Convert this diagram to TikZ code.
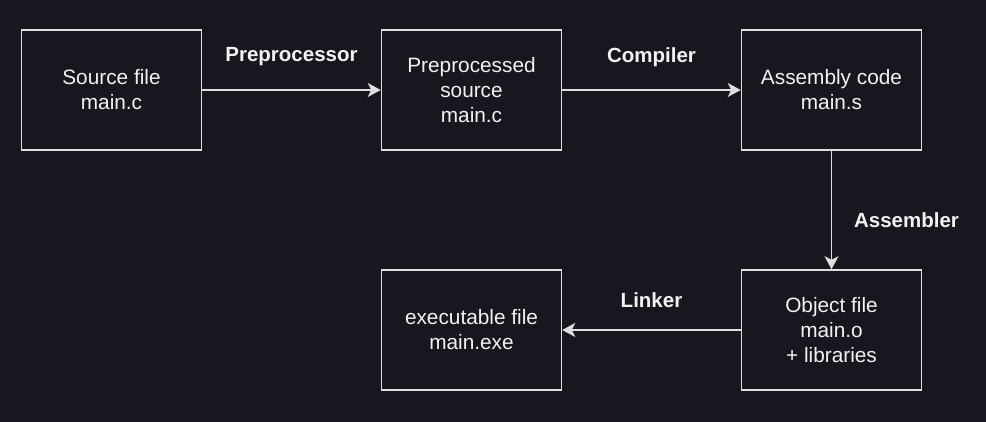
\documentclass[tikz,border=0pt]{standalone}
\usepackage{fontspec}
\setmainfont{Liberation Sans}
\usetikzlibrary{arrows.meta, positioning, math, calc}

\definecolor{bgColor}{RGB}{25,22,31}
\definecolor{lineColor}{RGB}{222,222,222}
\definecolor{textColor}{RGB}{242,242,242}

\begin{document}
\begin{tikzpicture}[x=1pt, y=1pt]
	\tikzmath{
		\x         = 111.5; %center of the first box
		\y         = -90;   %center of the first box
		\nodeW     = 180;   %node width
		\nodeH     = 120;   %node height
		\nodeDist  = 178.5; %distance between nodes
		\rowDist   = 118.5; %distance between the two rows
		\labelDist = 33;    %label above its arrow
	}
	\tikzstyle{Node} = [
		minimum width=\nodeW pt,
		minimum height=\nodeH pt,
		align=center,
		draw=lineColor,
		line width=1.5pt,
		text=textColor,
		font=\fontsize{20.8}{25}\selectfont
	]
	\tikzstyle{EmptyNode} = [rectangle, text=textColor, font=\fontsize{20.5}{25}\selectfont\bfseries]
	\tikzstyle{Arrow} = [-{Stealth[length=13pt, width=14pt, inset=3.5pt]}, draw=lineColor, line width=1.5pt]

	% background, also fixes the margins
	\fill[bgColor] (0,0) rectangle (986,-422);

	%%%%%%%%%%%%%%%%%%%%%%%%%%===---FIRST ROW---===%%%%%%%%%%%%%%%%%%%%%%%%%%
	\node (src) [Node] at (\x,\y)                      {Source file\\main.c};
	\node (pre) [Node, right = \nodeDist pt of src]    {Preprocessed\\source\\main.c};
	\node (asm) [Node, right = \nodeDist pt of pre]    {Assembly code\\main.s};
	\draw[Arrow] (src) -- (pre);
	\draw[Arrow] (pre) -- (asm);
	\node (prepLabel) [EmptyNode] at ($(src.east)!0.5!(pre.west) + (0,\labelDist)$) {Preprocessor};
	\node (compLabel) [EmptyNode] at ($(pre.east)!0.5!(asm.west) + (0,\labelDist)$) {Compiler};

	%%%%%%%%%%%%%%%%%%%%%%%%%%===---SECOND ROW---===%%%%%%%%%%%%%%%%%%%%%%%%%%
	\node (obj) [Node, below = \rowDist pt of asm]     {Object file\\main.o\\+ libraries};
	\node (exe) [Node, left = \nodeDist pt of obj]     {executable file\\main.exe};
	\draw[Arrow] (asm) -- (obj);
	\draw[Arrow] (obj) -- (exe);
	\node (asmLabel)  [EmptyNode] at ($(asm.south)!0.5!(obj.north) + (75,-10)$) {Assembler};
	\node (linkLabel) [EmptyNode] at ($(obj.west)!0.5!(exe.east) + (0,30)$)     {Linker};
\end{tikzpicture}
\end{document}
